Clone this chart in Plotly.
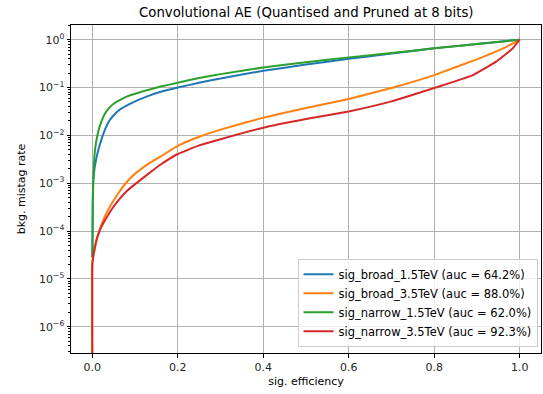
import plotly.graph_objects as go

# ---- data (background rate given as log10) ----
broad15_eff = [0.0, 0.001, 0.002, 0.005, 0.01, 0.015, 0.02, 0.03, 0.04, 0.05, 0.06, 0.08, 0.10, 0.13, 0.16, 0.2, 0.25, 0.3, 0.4, 0.5, 0.6, 0.7, 0.8, 0.9, 1.0]
broad15_log_bkg = [-4.55, -3.4, -3.0, -2.7, -2.45, -2.27, -2.12, -1.87, -1.69, -1.58, -1.49, -1.38, -1.29, -1.18, -1.09, -1.0, -0.9, -0.81, -0.65, -0.52, -0.40, -0.29, -0.18, -0.09, 0.0]

broad35_eff = [0.0, 0.0, 0.005, 0.01, 0.02, 0.03, 0.045, 0.06, 0.08, 0.10, 0.13, 0.16, 0.2, 0.25, 0.3, 0.4, 0.5, 0.6, 0.7, 0.8, 0.906, 0.969, 1.0]
broad35_log_bkg = [-7.0, -4.65, -4.39, -4.17, -3.90, -3.68, -3.43, -3.22, -2.98, -2.80, -2.60, -2.44, -2.22, -2.03, -1.88, -1.63, -1.43, -1.24, -1.01, -0.74, -0.39, -0.15, 0.0]

narrow15_eff = [0.0, 0.001, 0.002, 0.004, 0.006, 0.01, 0.015, 0.02, 0.03, 0.04, 0.05, 0.065, 0.08, 0.10, 0.13, 0.16, 0.2, 0.25, 0.3, 0.4, 0.5, 0.6, 0.7, 0.8, 0.9, 1.0]
narrow15_log_bkg = [-4.55, -3.4, -2.9, -2.55, -2.32, -2.08, -1.88, -1.74, -1.54, -1.42, -1.34, -1.26, -1.19, -1.13, -1.05, -0.98, -0.90, -0.80, -0.72, -0.58, -0.47, -0.37, -0.28, -0.18, -0.09, 0.0]

narrow35_eff = [0.0, 0.0, 0.002, 0.005, 0.01, 0.02, 0.03, 0.045, 0.06, 0.08, 0.10, 0.13, 0.16, 0.2, 0.25, 0.3, 0.4, 0.5, 0.6, 0.7, 0.8, 0.891, 0.945, 0.984, 1.0]
narrow35_log_bkg = [-7.0, -4.7, -4.53, -4.38, -4.18, -3.93, -3.77, -3.55, -3.37, -3.17, -3.02, -2.81, -2.61, -2.39, -2.21, -2.08, -1.84, -1.66, -1.50, -1.29, -1.01, -0.74, -0.46, -0.18, 0.0]

series_names = ["sig_broad_1.5TeV (auc = 64.2%)", "sig_broad_3.5TeV (auc = 88.0%)",
                "sig_narrow_1.5TeV (auc = 62.0%)", "sig_narrow_3.5TeV (auc = 92.3%)"]
series_colors = ["#1f77b4", "#ff7f0e", "#2ca02c", "#d62728"]

x_tickvals = [0.0, 0.2, 0.4, 0.6, 0.8, 1.0]
y_exponents = [-6, -5, -4, -3, -2, -1, 0]

title_text = "Convolutional AE (Quantised and Pruned at 8 bits)"
x_label = "sig. efficiency"
y_label = "bkg. mistag rate"

# ---- figure ----
FONT = "DejaVu Sans"
fig = go.Figure()
xs = [broad15_eff, broad35_eff, narrow15_eff, narrow35_eff]
logs = [broad15_log_bkg, broad35_log_bkg, narrow15_log_bkg, narrow35_log_bkg]
for x, lg, n, c in zip(xs, logs, series_names, series_colors):
    fig.add_trace(go.Scatter(x=x, y=[10.0 ** v for v in lg], mode="lines", name=n,
                             line=dict(color=c, width=2, shape="spline", smoothing=0.3)))

y_tickvals = [10.0 ** p for p in y_exponents]
y_ticktext = ["10<sup>" + ("\u2212" if p < 0 else "") + str(abs(p)) + "</sup>" for p in y_exponents]
minor_vals = [k * 10.0 ** p for p in range(-7, 1) for k in range(2, 10)]

fig.update_layout(
    width=543, height=394,
    margin=dict(l=71, r=2, t=25, b=41),
    paper_bgcolor="white", plot_bgcolor="white",
    font=dict(family=FONT, size=11, color="#262626"),
    title=dict(text=title_text, x=(71 + 541.5) / 2 / 543, xanchor="center",
               y=1 - 12.5 / 394, yanchor="middle", font=dict(size=13.3, color="black")),
    showlegend=True,
    legend=dict(x=0.9926, xanchor="right", y=0.019, yanchor="bottom",
                bgcolor="rgba(255,255,255,0.8)", bordercolor="#cccccc", borderwidth=1,
                font=dict(size=11.5, color="black"), itemwidth=30,
                tracegroupgap=0),
)
fig.update_xaxes(
    range=[-0.05, 1.05], tickvals=x_tickvals, tickformat=".1f",
    showgrid=True, gridcolor="#b0b0b0", gridwidth=0.8,
    showline=True, linecolor="black", linewidth=1, mirror=True,
    ticks="outside", ticklen=3.5, tickcolor="black", tickwidth=0.8,
    zeroline=False,
    title=dict(text=x_label, font=dict(size=11, color="black"), standoff=4),
    tickfont=dict(size=11, color="#262626"),
)
fig.update_yaxes(
    type="log", range=[-6.55, 0.307],
    tickmode="array", tickvals=y_tickvals, ticktext=y_ticktext,
    showgrid=True, gridcolor="#b0b0b0", gridwidth=0.8,
    showline=True, linecolor="black", linewidth=1, mirror=True,
    ticks="outside", ticklen=3.5, tickcolor="black", tickwidth=0.8,
    minor=dict(tickmode="array", tickvals=minor_vals, ticks="outside", ticklen=2,
               tickcolor="black", tickwidth=0.6, showgrid=False),
    zeroline=False,
    title=dict(text=y_label, font=dict(size=11, color="black"), standoff=11),
    tickfont=dict(size=11, color="#262626"),
)

fig.write_html("out.html")
